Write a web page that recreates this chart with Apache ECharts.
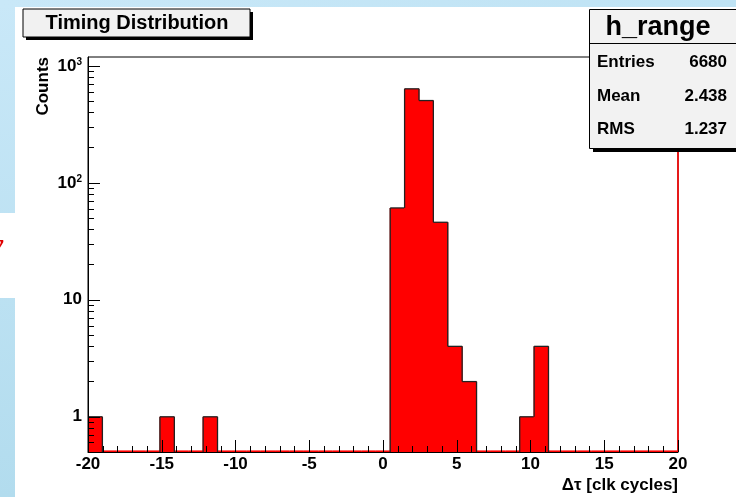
<!DOCTYPE html>
<html><head><meta charset="utf-8">
<script src="https://cdn.jsdelivr.net/npm/echarts@6/dist/echarts.min.js"></script>
<style>html,body{margin:0;padding:0;background:#fff}#c{width:736px;height:497px}</style>
</head><body><div id="c"></div><script>
const histTitle = 'Timing Distribution';
const xAxisTitle = 'Δτ [clk cycles]';
const yAxisTitle = 'Counts';
const binRange = [-20, 20];
const counts = [1,0,0,0,0,1,0,0,1,0, 0,0,0,0,0,0,0,0,0,0, 0,61,636,505,46,4,2,0,0,0, 1,4,0,0,0,0,0,0,0,0, 0];
const yRange = [0.5, 1190];
const xTickStep = 5;
const yMajorTicks = [1, 10, 100, 1000];
const yMinorTicks = [0.6,0.7,0.8,0.9,2,3,4,5,6,7,8,9,20,30,40,50,60,70,80,90,200,300,400,500,600,700,800,900];
const statsName = 'h_range';
const statsLabels = ['Entries', 'Mean', 'RMS'];
const statsValues = ['6680', '2.438', '1.237'];

const FONT = '"Liberation Sans", Arial, Helvetica, sans-serif';
const nBins = counts.length;
const bw = (binRange[1] - binRange[0]) / nBins;
const histData = counts.map((c, i) => [binRange[0] + i * bw, binRange[0] + (i + 1) * bw, c, i > 0 ? counts[i - 1] : 0]);

const chart = echarts.init(document.getElementById('c'), null, {renderer: 'canvas'});

function supLabel(v) {
  if (v === 1) return '{b|1}';
  if (v === 10) return '{b|10}';
  const e = Math.round(Math.log10(v));
  return '{b|10}{s|' + e + '}';
}

const statsGraphics = [];
statsLabels.forEach((l, i) => {
  const y = [62, 96, 129][i];
  statsGraphics.push({type: 'text', z: 102, x: 597, y: y,
    style: {text: l, font: 'bold 17px ' + FONT, fill: '#000', textAlign: 'left', textVerticalAlign: 'middle'}});
  statsGraphics.push({type: 'text', z: 102, x: 727, y: y,
    style: {text: statsValues[i], font: 'bold 17px ' + FONT, fill: '#000', textAlign: 'right', textVerticalAlign: 'middle'}});
});

const option = {
  animation: false,
  backgroundColor: '#ffffff',
  grid: {left: 88, right: 58, top: 57, bottom: 45, show: true, borderColor: '#000', borderWidth: 1, backgroundColor: 'transparent'},
  xAxis: {
    type: 'value', min: binRange[0], max: binRange[1], interval: xTickStep, z: 5,
    axisLine: {show: true, onZero: false, lineStyle: {color: '#000', width: 1}},
    axisTick: {show: true, inside: true, length: 12, lineStyle: {color: '#000', width: 1}},
    minorTick: {show: true, splitNumber: 5, length: 6, lineStyle: {color: '#000', width: 1}},
    axisLabel: {color: '#000', fontSize: 17, fontWeight: 'bold', fontFamily: FONT, margin: 4},
    splitLine: {show: false}
  },
  yAxis: [{
    type: 'log', logBase: 10, min: yRange[0], max: yRange[1], position: 'left', z: 5,
    axisLine: {show: true, onZero: false, lineStyle: {color: '#000', width: 1}},
    axisTick: {show: true, inside: true, length: 12, customValues: yMajorTicks, lineStyle: {color: '#000', width: 1}},
    axisLabel: {customValues: yMajorTicks, margin: 6, formatter: supLabel,
      rich: {
        b: {fontSize: 17, fontWeight: 'bold', fontFamily: FONT, color: '#000', lineHeight: 18},
        s: {fontSize: 10, fontWeight: 'bold', fontFamily: FONT, color: '#000', verticalAlign: 'top', lineHeight: 10}
      }},
    splitLine: {show: false}
  }, {
    type: 'log', logBase: 10, min: yRange[0], max: yRange[1], position: 'left', offset: 0, z: 5,
    axisLine: {show: false, onZero: false},
    axisTick: {show: true, inside: true, length: 6, customValues: yMinorTicks, lineStyle: {color: '#000', width: 1}},
    axisLabel: {show: false},
    splitLine: {show: false}
  }],
  series: [{
    type: 'custom',
    xAxisIndex: 0, yAxisIndex: 0,
    data: histData,
    clip: true,
    z: 2,
    renderItem: function (params, api) {
      const lo = api.value(0), hi = api.value(1), c = api.value(2), p = api.value(3);
      const b = api.coord([lo, yRange[0]]);
      const x0 = b[0], bottom = b[1];
      const x1 = api.coord([hi, yRange[0]])[0];
      const yc = c > 0 ? api.coord([lo, c])[1] : bottom;
      const yp = p > 0 ? api.coord([lo, p])[1] : bottom;
      const children = [];
      if (c > 0) {
        children.push({type: 'rect', shape: {x: x0 - 0.5, y: yc, width: x1 - x0 + 1, height: bottom - yc}, style: {fill: '#ff0000'}});
        children.push({type: 'line', shape: {x1: x0, y1: yc, x2: x1, y2: yc}, style: {stroke: '#222', lineWidth: 1.3}});
      } else {
        children.push({type: 'line', shape: {x1: x0, y1: bottom - 0.8, x2: x1, y2: bottom - 0.8}, style: {stroke: '#ff0000', lineWidth: 1.6}});
      }
      if (Math.abs(yp - yc) > 0.5) {
        children.push({type: 'line', shape: {x1: x0, y1: yp, x2: x0, y2: yc}, style: {stroke: '#222', lineWidth: 1.3}});
      }
      return {type: 'group', children: children};
    },
    markLine: {
      silent: true, symbol: 'none', label: {show: false},
      lineStyle: {color: '#ff0000', type: 'solid', width: 1.6},
      data: [{xAxis: binRange[1]}]
    }
  }],
  graphic: [
    {type: 'rect', z: -5, shape: {x: 0, y: 0, width: 15, height: 497},
      style: {fill: new echarts.graphic.LinearGradient(0, 0, 0, 1, [{offset: 0, color: '#c9e8f8'}, {offset: 1, color: '#b2dcee'}])}},
    {type: 'rect', z: -5, shape: {x: 0, y: 0, width: 736, height: 7},
      style: {fill: new echarts.graphic.LinearGradient(0, 0, 1, 0, [{offset: 0, color: '#c9e8f8'}, {offset: 1, color: '#bfe3f4'}])}},
    {type: 'rect', z: -4, shape: {x: 0, y: 213, width: 15, height: 85}, style: {fill: '#ffffff'}},
    {type: 'text', z: -3, x: -10, y: 246,
      style: {text: 'y', font: 'italic bold 30px "Liberation Serif", "DejaVu Serif", serif', fill: '#e00000', textAlign: 'left', textVerticalAlign: 'middle'}},
    // title box
    {type: 'rect', z: 100, shape: {x: 26, y: 12, width: 227, height: 28}, style: {fill: '#000'}},
    {type: 'rect', z: 101, shape: {x: 23, y: 9, width: 227, height: 28}, style: {fill: '#f1f1f1', stroke: '#000', lineWidth: 1}},
    {type: 'text', z: 102, x: 137, y: 23,
      style: {text: histTitle, font: 'bold 20px ' + FONT, fill: '#000', textAlign: 'center', textVerticalAlign: 'middle'}},
    // stats box
    {type: 'rect', z: 100, shape: {x: 593, y: 12, width: 150, height: 140}, style: {fill: '#000'}},
    {type: 'rect', z: 101, shape: {x: 589.5, y: 9.5, width: 160, height: 139}, style: {fill: '#f2f2f2', stroke: '#000', lineWidth: 1}},
    {type: 'line', z: 102, shape: {x1: 589, y1: 43.5, x2: 736, y2: 43.5}, style: {stroke: '#000', lineWidth: 1}},
    {type: 'text', z: 102, x: 658, y: 28,
      style: {text: statsName, font: 'bold 27px ' + FONT, fill: '#000', textAlign: 'center', textVerticalAlign: 'middle'}},
    ...statsGraphics,
    // axis titles
    {type: 'text', z: 10, x: 678, y: 485,
      style: {text: xAxisTitle, font: 'bold 17px ' + FONT, fill: '#000', textAlign: 'right', textVerticalAlign: 'middle'}},
    {type: 'text', z: 10, x: 43, y: 57, rotation: Math.PI / 2,
      style: {text: yAxisTitle, font: 'bold 17px ' + FONT, fill: '#000', textAlign: 'right', textVerticalAlign: 'middle'}}
  ]
};
chart.setOption(option);
</script></body></html>
